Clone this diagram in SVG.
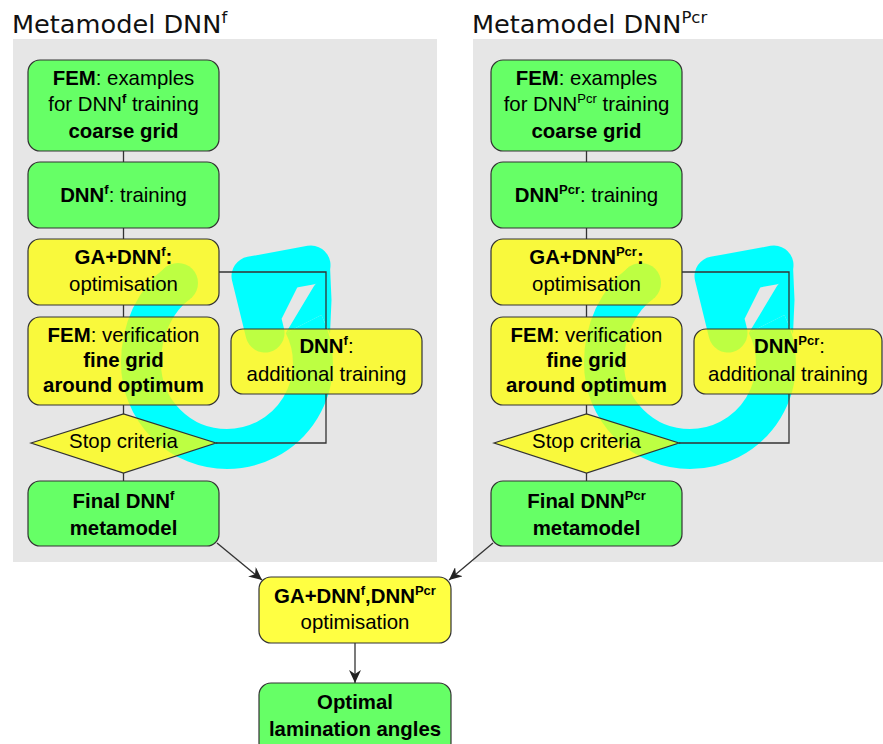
<svg xmlns="http://www.w3.org/2000/svg" width="883" height="744" viewBox="0 0 883 744">
<style>
.bg{fill:#e6e6e6}
.gn{fill:#66ff66;stroke:#333;stroke-width:1.2}
.yl{fill:#ffff00;fill-opacity:0.74;stroke:#333;stroke-width:1.2}
.c{stroke:#333;stroke-width:1.3;fill:none}
.t{font-family:"Liberation Sans",Arial,sans-serif;font-size:20.4px;text-anchor:middle;fill:#000}
.b{font-weight:bold}
.ti{font-family:"DejaVu Sans",sans-serif;font-size:25.6px;fill:#111}
.cy{fill:#00ffff;stroke:none}
.ring{fill:none;stroke:#00ffff;stroke-width:40;stroke-linecap:butt}
.head{fill:none;stroke:#00ffff;stroke-width:39;stroke-linecap:round;stroke-linejoin:round}
</style>
<defs>
<marker id="ah" markerWidth="14" markerHeight="12" refX="13" refY="6" orient="auto" markerUnits="userSpaceOnUse"><path d="M0,0 L13,6 L0,12 L4,6 z" fill="#222"/></marker>
<g id="curl">
<circle class="cy" cx="178" cy="283" r="20"/>
<path class="ring" d="M 178 283 C 155 300 141 330 141 363 A 86 86 0 0 0 227 449 A 86 86 0 0 0 303.6 324"/>
<polygon class="cy" points="285.8,333 314,286 330,266 331.5,300 330,334 321.4,315"/>
<path class="head" d="M 311 265 L 251 276 L 265 333"/>
<polygon class="cy" points="251,276 311,265 299,284 282,318 265,333"/>
</g>
</defs>

<g id="panels">
<rect class="bg" x="13" y="39" width="424" height="523"/>
<rect class="bg" x="473" y="39" width="410" height="523"/>
<text class="ti" x="12" y="33">Metamodel DNN<tspan font-size="16.5" dy="-10">f</tspan></text>
<text class="ti" x="472" y="33">Metamodel DNN<tspan font-size="16.5" dy="-10">Pcr</tspan></text>
</g>

<g id="loop-arrows">
<use href="#curl"/>
<use href="#curl" transform="translate(463,0)"/>
</g>

<g id="connectors">
<line class="c" x1="123.5" y1="151" x2="123.5" y2="162"/>
<line class="c" x1="123.5" y1="228" x2="123.5" y2="239"/>
<line class="c" x1="123.5" y1="305" x2="123.5" y2="317"/>
<line class="c" x1="123.5" y1="405" x2="123.5" y2="414"/>
<line class="c" x1="123.5" y1="473" x2="123.5" y2="481"/>
<polyline class="c" points="219,272 326,272 326,329"/>
<polyline class="c" points="326,394 326,443 216,443"/>
<line class="c" x1="586.5" y1="151" x2="586.5" y2="162"/>
<line class="c" x1="586.5" y1="228" x2="586.5" y2="239"/>
<line class="c" x1="586.5" y1="305" x2="586.5" y2="317"/>
<line class="c" x1="586.5" y1="405" x2="586.5" y2="414"/>
<line class="c" x1="586.5" y1="473" x2="586.5" y2="481"/>
<polyline class="c" points="682,272 789,272 789,329"/>
<polyline class="c" points="789,394 789,443 679,443"/>
<line class="c" x1="217" y1="543" x2="262" y2="580" marker-end="url(#ah)"/>
<line class="c" x1="493" y1="543" x2="449" y2="580" marker-end="url(#ah)"/>
<line class="c" x1="355" y1="643" x2="355" y2="683" marker-end="url(#ah)"/>
</g>

<g id="f-fem">
<rect class="gn" x="28" y="60" width="191" height="91" rx="12"/>
<text class="t" x="123.5" y="85"><tspan class="b">FEM</tspan>: examples</text>
<text class="t" x="123.5" y="111">for DNN<tspan class="b" font-size="13" dy="-8">f</tspan><tspan dy="8"> training</tspan></text>
<text class="t b" x="123.5" y="138">coarse grid</text>
</g>
<g id="f-train">
<rect class="gn" x="28" y="162" width="191" height="66" rx="12"/>
<text class="t" x="123.5" y="202"><tspan class="b">DNN</tspan><tspan class="b" font-size="13" dy="-8">f</tspan><tspan dy="8">: training</tspan></text>
</g>
<g id="f-ga">
<rect class="yl" x="28" y="239" width="191" height="66" rx="12"/>
<text class="t b" x="123.5" y="264">GA+DNN<tspan font-size="13" dy="-8">f</tspan><tspan dy="8">:</tspan></text>
<text class="t" x="123.5" y="291">optimisation</text>
</g>
<g id="f-verify">
<rect class="yl" x="28" y="317" width="191" height="88" rx="12"/>
<text class="t" x="123.5" y="342"><tspan class="b">FEM</tspan>: verification</text>
<text class="t b" x="123.5" y="367">fine grid</text>
<text class="t b" x="123.5" y="392">around optimum</text>
</g>
<g id="f-stop">
<polygon class="yl" points="31,443 123.5,414 216,443 123.5,473"/>
<text class="t" x="123.5" y="448">Stop criteria</text>
</g>
<g id="f-final">
<rect class="gn" x="28" y="481" width="191" height="65" rx="12"/>
<text class="t b" x="123.5" y="508">Final DNN<tspan font-size="13" dy="-8">f</tspan></text>
<text class="t b" x="123.5" y="535">metamodel</text>
</g>
<g id="f-add">
<rect class="yl" x="231" y="329" width="191" height="65" rx="12"/>
<text class="t" x="326.5" y="353"><tspan class="b">DNN</tspan><tspan class="b" font-size="13" dy="-8">f</tspan><tspan dy="8">:</tspan></text>
<text class="t" x="326.5" y="381">additional training</text>
</g>

<g id="p-fem">
<rect class="gn" x="491" y="60" width="191" height="91" rx="12"/>
<text class="t" x="586.5" y="85"><tspan class="b">FEM</tspan>: examples</text>
<text class="t" x="586.5" y="111">for DNN<tspan font-size="13" dy="-8">Pcr</tspan><tspan dy="8"> training</tspan></text>
<text class="t b" x="586.5" y="138">coarse grid</text>
</g>
<g id="p-train">
<rect class="gn" x="491" y="162" width="191" height="66" rx="12"/>
<text class="t" x="586.5" y="202"><tspan class="b">DNN</tspan><tspan class="b" font-size="13" dy="-8">Pcr</tspan><tspan dy="8">: training</tspan></text>
</g>
<g id="p-ga">
<rect class="yl" x="491" y="239" width="191" height="66" rx="12"/>
<text class="t b" x="586.5" y="264">GA+DNN<tspan font-size="13" dy="-8">Pcr</tspan><tspan dy="8">:</tspan></text>
<text class="t" x="586.5" y="291">optimisation</text>
</g>
<g id="p-verify">
<rect class="yl" x="491" y="317" width="191" height="88" rx="12"/>
<text class="t" x="586.5" y="342"><tspan class="b">FEM</tspan>: verification</text>
<text class="t b" x="586.5" y="367">fine grid</text>
<text class="t b" x="586.5" y="392">around optimum</text>
</g>
<g id="p-stop">
<polygon class="yl" points="494,443 586.5,414 679,443 586.5,473"/>
<text class="t" x="586.5" y="448">Stop criteria</text>
</g>
<g id="p-final">
<rect class="gn" x="491" y="481" width="191" height="65" rx="12"/>
<text class="t b" x="586.5" y="508">Final DNN<tspan font-size="13" dy="-8">Pcr</tspan></text>
<text class="t b" x="586.5" y="535">metamodel</text>
</g>
<g id="p-add">
<rect class="yl" x="694" y="329" width="188" height="65" rx="12"/>
<text class="t" x="789.5" y="353"><tspan class="b">DNN</tspan><tspan class="b" font-size="13" dy="-8">Pcr</tspan><tspan dy="8">:</tspan></text>
<text class="t" x="788" y="381">additional training</text>
</g>

<g id="combined-opt">
<rect class="yl" x="259" y="577" width="192" height="66" rx="12"/>
<text class="t b" x="355" y="603">GA+DNN<tspan font-size="13" dy="-8">f</tspan><tspan dy="8">,DNN</tspan><tspan font-size="13" dy="-8">Pcr</tspan></text>
<text class="t" x="355" y="629">optimisation</text>
</g>
<g id="optimal-angles">
<rect class="gn" x="259" y="683" width="192" height="72" rx="12"/>
<text class="t b" x="355" y="709">Optimal</text>
<text class="t b" x="355" y="736">lamination angles</text>
</g>
</svg>
